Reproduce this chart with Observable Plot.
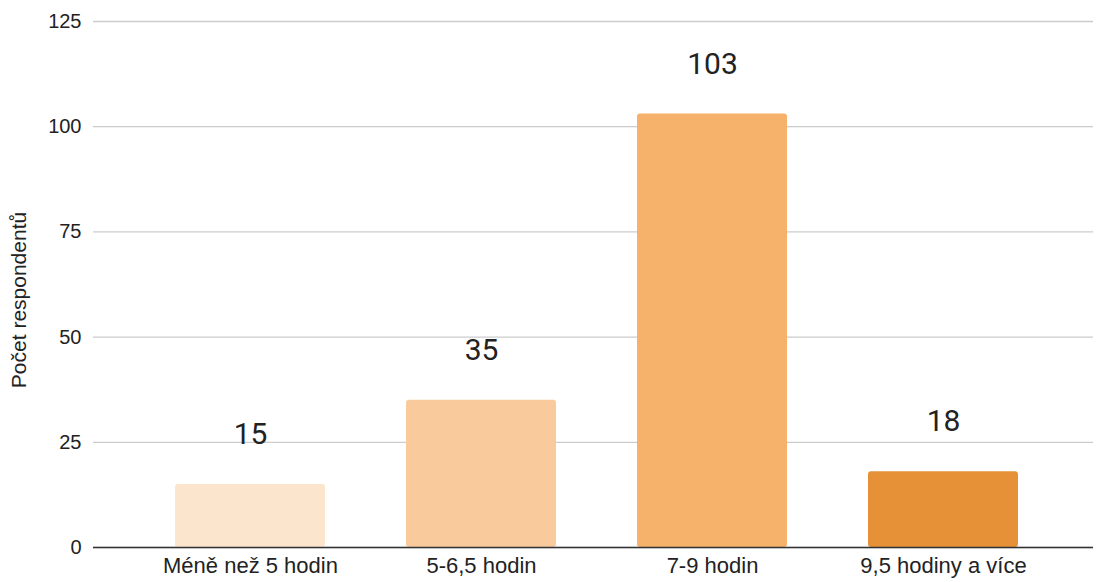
<!DOCTYPE html>
<html>
<head>
<meta charset="utf-8">
<script src="https://cdn.jsdelivr.net/npm/d3@7"></script>
<script src="https://cdn.jsdelivr.net/npm/@observablehq/plot@0.6"></script>
<style>
  html, body { margin: 0; padding: 0; background: #fff; }
  #chart svg { display: block; }
</style>
</head>
<body>
<div id="chart"></div>
<script>
const categories = ["Méně než 5 hodin", "5-6,5 hodin", "7-9 hodin", "9,5 hodiny a více"];
const values = [15, 35, 103, 18];
const colors = ["#fce5cd", "#f9cb9c", "#f6b26b", "#e69138"];
const yTicks = [0, 25, 50, 75, 100, 125];
const yLabel = "Počet respondentů";

const data = categories.map((c, i) => ({category: c, value: values[i]}));

const axisFont = "'Liberation Sans', Arial, sans-serif";

const chart = Plot.plot({
  width: 1096,
  height: 582,
  marginLeft: 93,
  marginRight: 3,
  marginTop: 21,
  marginBottom: 35,
  style: {fontFamily: axisFont, fontSize: "20px", color: "#222", background: "#fff"},
  x: {domain: categories, paddingInner: 0.352, paddingOuter: 0.34, align: 0.52},
  y: {domain: [0, 125]},
  color: {domain: categories, range: colors},
  marks: [
    Plot.gridY(yTicks, {stroke: "#cccccc", strokeOpacity: 1, strokeWidth: 1.3}),
    Plot.barY(data, {x: "category", y: "value", fill: "category", rx: 3}),
    Plot.ruleY([0], {stroke: "#333", strokeWidth: 1.5}),
    Plot.axisY(yTicks, {label: null, tickSize: 0, tickPadding: 12, fontSize: 20, fill: "#222", fontFamily: axisFont}),
    Plot.axisX({label: null, tickSize: 0, tickPadding: 10, fontSize: 22, fill: "#222", fontFamily: axisFont}),
    Plot.text(data, {x: "category", y: "value", text: d => String(d.value), dy: -50, fontSize: 30, fill: "#222", lineAnchor: "middle", fontFamily: "Roboto"})
  ]
});

// y-axis title
const svg = d3.select(chart);
svg.append("text")
  .attr("transform", "translate(20,300) rotate(-90)")
  .attr("text-anchor", "middle")
  .attr("dominant-baseline", "middle")
  .style("font-family", axisFont)
  .style("font-size", "21px")
  .style("fill", "#222")
  .text(yLabel);

document.getElementById("chart").appendChild(chart);
</script>
</body>
</html>
